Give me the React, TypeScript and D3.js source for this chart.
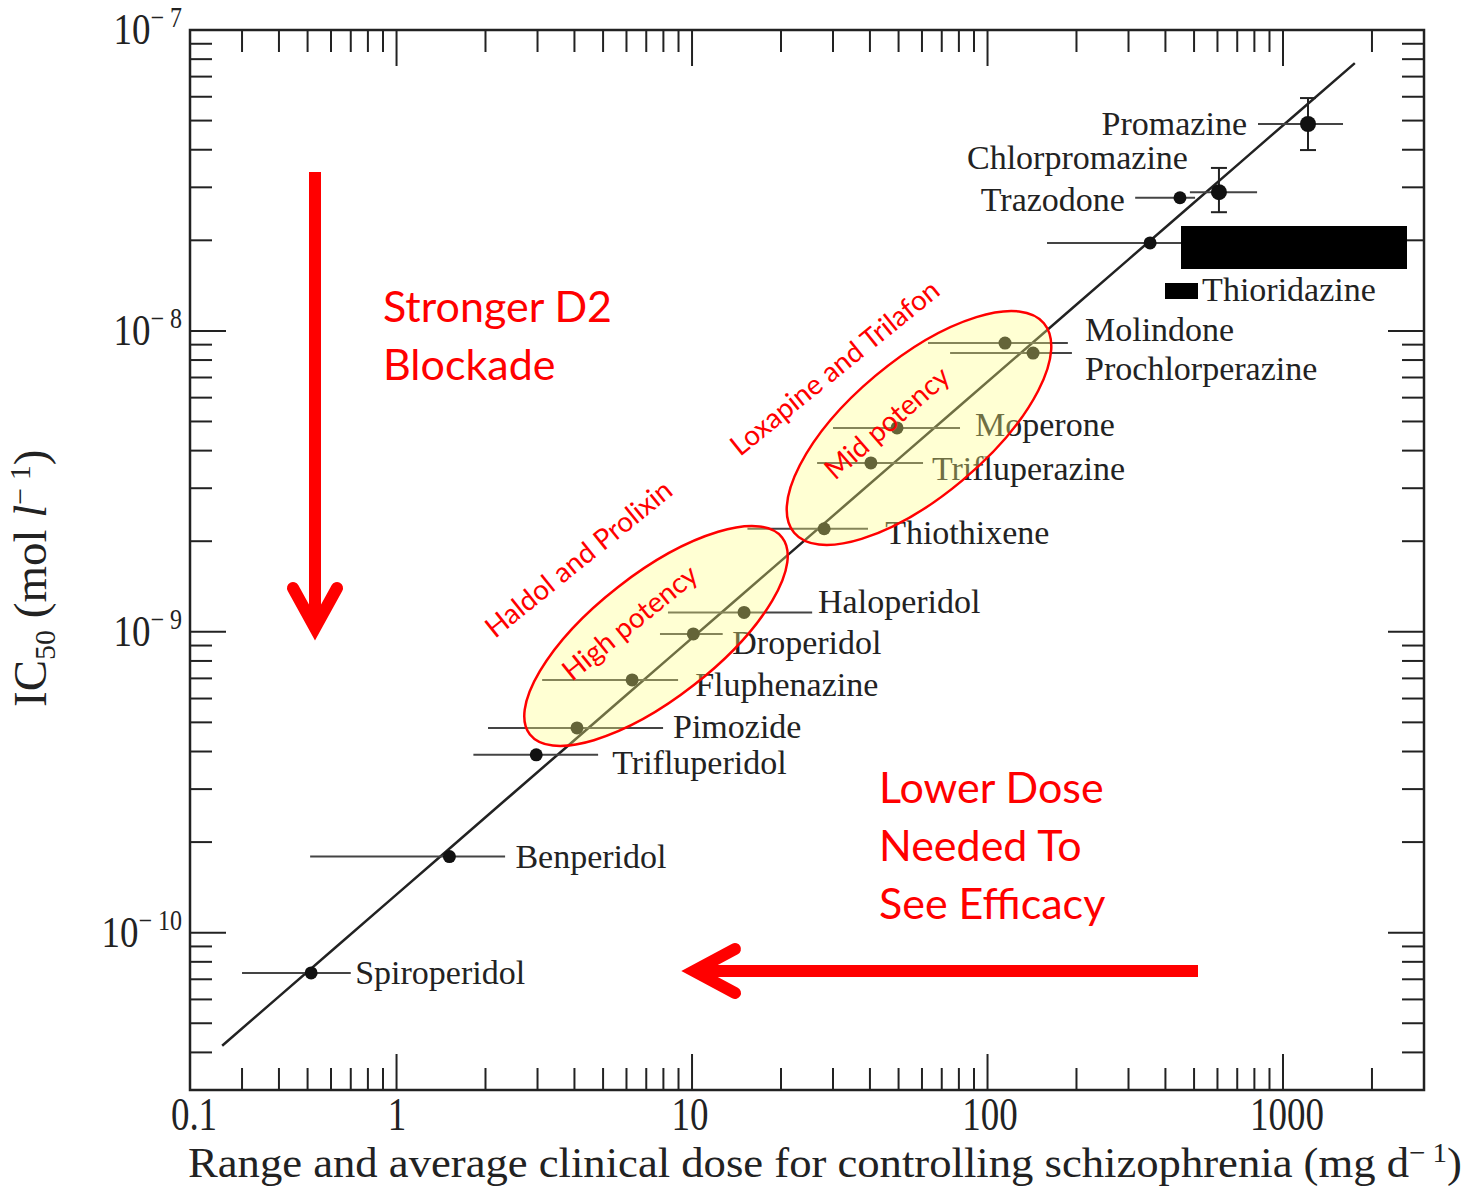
import React from "react";
import * as d3 from "d3";

// ---------- data ----------
const drugs = [
  "Spiroperidol", "Benperidol", "Trifluperidol", "Pimozide", "Fluphenazine",
  "Droperidol", "Haloperidol", "Thiothixene", "Trifluperazine", "Moperone",
  "Molindone", "Prochlorperazine", "Thioridazine", "Trazodone", "Chlorpromazine", "Promazine",
];
// average clinical dose (mg/day)
const doseMean = [0.514, 1.51, 2.97, 4.08, 6.27, 10.1, 15.0, 28.0, 40.3, 49.4, 114.6, 142.6, 355, 448, 607, 1215];
const doseLow = [0.30, 0.51, 1.82, 2.04, 3.11, 7.79, 8.29, 15.4, 26.5, 30.0, 62.9, 74.7, 159, 316, 484, 823];
const doseHigh = [0.70, 2.33, 4.81, 7.98, 8.97, 12.7, 25.5, 39.4, 60.5, 80.7, 187, 193, 700, 504, 817, 1596];
// IC50 (mol/l)
const ic50 = [7.35e-11, 1.79e-10, 3.9e-10, 4.79e-10, 6.92e-10, 9.84e-10, 1.16e-9, 2.2e-9, 3.64e-9, 4.76e-9, 9.11e-9, 8.44e-9, 1.96e-8, 2.77e-8, 2.89e-8, 4.87e-8];
const ic50Low: (number | null)[] = [null, null, null, null, null, null, null, null, null, null, null, null, null, null, 2.48e-8, 3.99e-8];
const ic50High: (number | null)[] = [null, null, null, null, null, null, null, null, null, null, null, null, null, null, 3.48e-8, 5.94e-8];

// regression line: log10(IC50) = intercept + slope * log10(dose)
const fitIntercept = -9.873;
const fitSlope = 0.852;
const fitDoseRange = [0.257, 1750];

// axes
const xDomain = [0.2, 3000];
const yDomain = [3e-11, 1e-7];
const xTickValues = [0.2, 1, 10, 100, 1000];
const xTickLabels = ["0.1", "1", "10", "100", "1000"];
const yTickValues = [1e-7, 1e-8, 1e-9, 1e-10];
const yTickExps = ["7", "8", "9", "10"];

// annotations text
const ellipseLabels = ["Haldol and Prolixin", "High potency", "Loxapine and Trilafon", "Mid potency"];
const leftNote = ["Stronger D2", "Blockade"];
const bottomNote = ["Lower Dose", "Needed To", "See Efficacy"];

// ---------- layout (pixels, not data) ----------
const W = 1468, H = 1187;
const PL = 190, PR = 1424, PT = 30, PB = 1090;
const labelDx = [44, 66, 76, 96, 63, 39, 74, 61, 61, 78, 80, 52, 52, -55, -31, -61];
const labelDy = [0, 0, 8, -1, 5, 9, -10, 4, 6, -3, -13, 16, 47, 2, -34, 0];
const labelEnd = [false, false, false, false, false, false, false, false, false, false, false, false, false, true, true, true];
const xLabelCx = [194, 397, 690, 990, 1287];

const SERIF = "'Liberation Serif', 'DejaVu Serif', serif";
const SANS = "Lato, 'Open Sans', 'Noto Sans', sans-serif";
const INK = "#222";
const RED = "#ff0000";

export default function App() {
  const x = d3.scaleLog().domain(xDomain).range([PL, PR]);
  const y = d3.scaleLog().domain(yDomain).range([PB, PT]);

  const xMinor: number[] = [];
  for (const d of [0.1, 1, 10, 100, 1000])
    for (let k = 2; k <= 9; k++) {
      const v = k * d;
      if (v > xDomain[0] * 1.01 && v < xDomain[1] * 0.99) xMinor.push(v);
    }
  const xMajor = [1, 10, 100, 1000];
  const yMinor: number[] = [];
  for (const d of [1e-11, 1e-10, 1e-9, 1e-8])
    for (let k = 2; k <= 9; k++) {
      const v = k * d;
      if (v > yDomain[0] * 1.01 && v < yDomain[1] * 0.99) yMinor.push(v);
    }
  const yMajor = [1e-10, 1e-9, 1e-8];
  const minL = 22, majL = 36;

  const fitPts = d3.range(0, 21).map((i) => {
    const lx = Math.log10(fitDoseRange[0]) + (i / 20) * (Math.log10(fitDoseRange[1]) - Math.log10(fitDoseRange[0]));
    return [Math.pow(10, lx), Math.pow(10, fitIntercept + fitSlope * lx)] as [number, number];
  });
  const fitLine = d3.line<[number, number]>().x((d) => x(d[0])).y((d) => y(d[1]))(fitPts) || "";

  const ellipse = (cx: number, cy: number, a: number, b: number, ang: number, key: string) => (
    <ellipse key={key} cx={0} cy={0} rx={a} ry={b}
      transform={`translate(${cx},${cy}) rotate(${ang})`}
      fill="#ffff80" fillOpacity={0.35} stroke={RED} strokeWidth={2.5} />
  );

  return (
    <svg width={W} height={H} style={{ position: "absolute", left: 0, top: 0, background: "#fff" }}
      xmlns="http://www.w3.org/2000/svg">
      <rect x={0} y={0} width={W} height={H} fill="#fff" />
      {/* frame */}
      <rect x={PL} y={PT} width={PR - PL} height={PB - PT} fill="none" stroke={INK} strokeWidth={2.5} />
      {/* x ticks */}
      {xMinor.map((v, i) => (
        <g key={"xm" + i} stroke={INK} strokeWidth={2}>
          <line x1={x(v)} x2={x(v)} y1={PB} y2={PB - minL} />
          <line x1={x(v)} x2={x(v)} y1={PT} y2={PT + minL} />
        </g>
      ))}
      {xMajor.map((v, i) => (
        <g key={"xM" + i} stroke={INK} strokeWidth={2}>
          <line x1={x(v)} x2={x(v)} y1={PB} y2={PB - majL} />
          <line x1={x(v)} x2={x(v)} y1={PT} y2={PT + majL} />
        </g>
      ))}
      {/* y ticks */}
      {yMinor.map((v, i) => (
        <g key={"ym" + i} stroke={INK} strokeWidth={2}>
          <line x1={PL} x2={PL + minL} y1={y(v)} y2={y(v)} />
          <line x1={PR} x2={PR - minL} y1={y(v)} y2={y(v)} />
        </g>
      ))}
      {yMajor.map((v, i) => (
        <g key={"yM" + i} stroke={INK} strokeWidth={2}>
          <line x1={PL} x2={PL + majL} y1={y(v)} y2={y(v)} />
          <line x1={PR} x2={PR - majL} y1={y(v)} y2={y(v)} />
        </g>
      ))}
      {/* x tick labels */}
      {xTickValues.map((v, i) => (
        <text key={"xl" + i} transform={`translate(${xLabelCx[i]},${PB + 40}) scale(1,1.25)`}
          textAnchor="middle" fontFamily={SERIF} fontSize={37} fill={INK}>{xTickLabels[i]}</text>
      ))}
      {/* y tick labels */}
      {yTickValues.map((v, i) => (
        <text key={"yl" + i} transform={`translate(182,${y(v) + 14}) scale(1,1.2)`}
          textAnchor="end" fontFamily={SERIF} fontSize={37} fill={INK}>
          10<tspan dy={-14} fontSize={24}>{"\u2212 " + yTickExps[i]}</tspan>
        </text>
      ))}
      {/* axis titles */}
      <text transform={`translate(188,1177) scale(1,1.05)`} fontFamily={SERIF} fontSize={40} fill={INK}
        textLength={1274} lengthAdjust="spacingAndGlyphs">
        Range and average clinical dose for controlling schizophrenia (mg d<tspan dy={-14} fontSize={26}>{"\u2212 1"}</tspan><tspan dy={14}>)</tspan>
      </text>
      <text transform={`translate(46,707) rotate(-90)`} fontFamily={SERIF} fontSize={47} fill={INK}>
        IC<tspan dy={9} fontSize={30}>50</tspan><tspan dy={-9}> (mol </tspan><tspan fontStyle="italic">l</tspan><tspan dy={-16} fontSize={30}>{"\u2212 1"}</tspan><tspan dy={16}>)</tspan>
      </text>

      {/* regression line */}
      <path d={fitLine} fill="none" stroke={INK} strokeWidth={2.5} />

      {/* error bars */}
      {drugs.map((d, i) => (
        <line key={"eb" + i} x1={x(doseLow[i])} x2={x(doseHigh[i])} y1={y(ic50[i])} y2={y(ic50[i])}
          stroke="#444" strokeWidth={2} />
      ))}
      {drugs.map((d, i) =>
        ic50Low[i] != null && ic50High[i] != null ? (
          <g key={"vb" + i} stroke={INK} strokeWidth={2}>
            <line x1={x(doseMean[i])} x2={x(doseMean[i])} y1={y(ic50Low[i] as number)} y2={y(ic50High[i] as number)} />
            <line x1={x(doseMean[i]) - 8} x2={x(doseMean[i]) + 8} y1={y(ic50Low[i] as number)} y2={y(ic50Low[i] as number)} />
            <line x1={x(doseMean[i]) - 8} x2={x(doseMean[i]) + 8} y1={y(ic50High[i] as number)} y2={y(ic50High[i] as number)} />
          </g>
        ) : null
      )}
      {/* points */}
      {drugs.map((d, i) => (
        <circle key={"pt" + i} cx={x(doseMean[i])} cy={y(ic50[i])} r={ic50Low[i] != null ? 8 : 6.5} fill="#111" />
      ))}
      {/* drug labels */}
      {drugs.map((d, i) => (
        <text key={"lb" + i} x={x(doseMean[i]) + labelDx[i]} y={y(ic50[i]) + labelDy[i] + 11}
          textAnchor={labelEnd[i] ? "end" : "start"} fontFamily={SERIF} fontSize={34} fill={INK}>{d}</text>
      ))}
      {/* redaction boxes */}
      <rect x={1181} y={226} width={226} height={43} fill="#000" />
      <rect x={1165} y={283} width={33} height={16} fill="#000" />

      {/* highlight ellipses */}
      {ellipse(656, 636, 160, 62, -38, "e1")}
      {ellipse(919, 428, 163, 68, -40, "e2")}

      {/* rotated red labels */}
      <g fill={RED} fontFamily={SANS} fontSize={28}>
        <text transform="translate(495,639) rotate(-39)">{ellipseLabels[0]}</text>
        <text transform="translate(572,682) rotate(-39)">{ellipseLabels[1]}</text>
        <text transform="translate(740,457) rotate(-39)">{ellipseLabels[2]}</text>
        <text transform="translate(835,481) rotate(-41)">{ellipseLabels[3]}</text>
      </g>
      {/* notes */}
      <g fill={RED} fontFamily={SANS} fontSize={43}>
        {leftNote.map((t, i) => (<text key={"ln" + i} x={383} y={322 + i * 58}>{t}</text>))}
        {bottomNote.map((t, i) => (<text key={"bn" + i} x={879} y={803 + i * 58}>{t}</text>))}
      </g>
      {/* arrows */}
      <g stroke={RED} strokeWidth={12} fill="none" strokeLinecap="butt" strokeLinejoin="miter">
        <line x1={315} y1={172} x2={315} y2={624} />
        <polyline points="293,588 315,628 337,588" strokeLinecap="round" />
        <line x1={1198} y1={971} x2={696} y2={971} />
        <polyline points="735,949 694,971 735,993" strokeLinecap="round" />
      </g>
    </svg>
  );
}
